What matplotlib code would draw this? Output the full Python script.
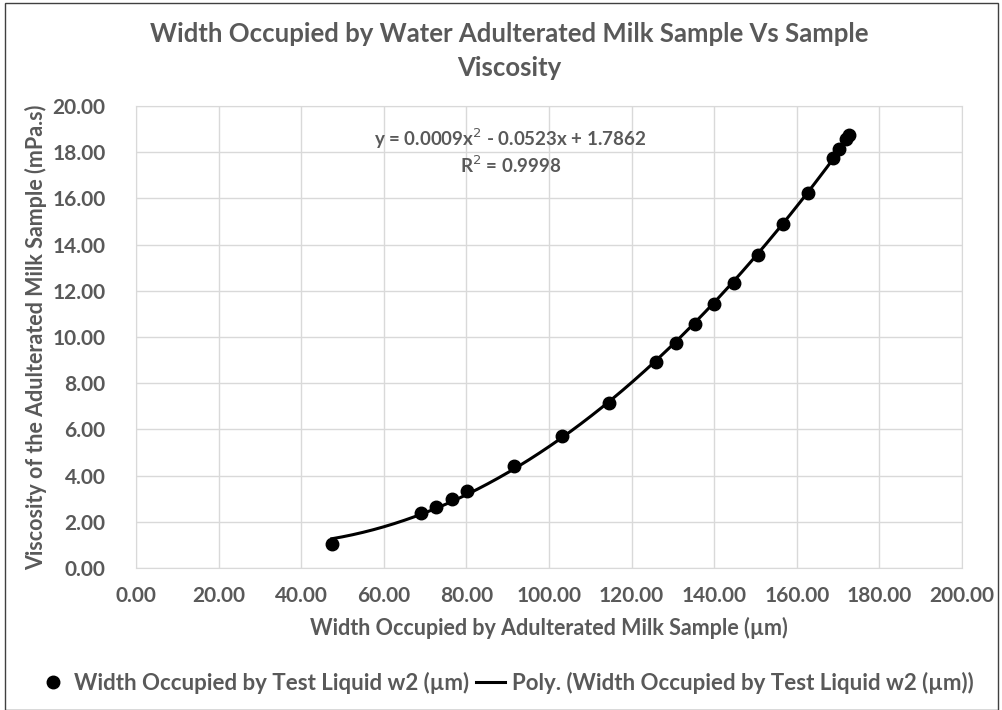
import matplotlib.pyplot as plt
import numpy as np
from matplotlib.patches import Rectangle

# data
width_um = [47.4, 68.9, 72.6, 76.5, 80.2, 91.6, 103.1, 114.6, 125.9, 130.7,
            135.4, 139.9, 144.7, 150.7, 156.7, 162.8, 168.8, 170.3, 171.9, 172.7]
viscosity = [1.04, 2.37, 2.65, 2.97, 3.32, 4.40, 5.71, 7.16, 8.93, 9.73,
             10.55, 11.42, 12.32, 13.56, 14.88, 16.25, 17.74, 18.13, 18.56, 18.74]
x_ticks = [0, 20, 40, 60, 80, 100, 120, 140, 160, 180, 200]
y_ticks = [0, 2, 4, 6, 8, 10, 12, 14, 16, 18, 20]

grey = '#595959'
plt.rcParams['font.family'] = ['Lato', 'DejaVu Sans']

fig = plt.figure(figsize=(10.03, 7.10), dpi=100)
W, H = 1003, 710
ax = fig.add_axes([136 / W, 1 - 568 / H, (962 - 136) / W, (568 - 106) / H])

# trendline like excel: 2nd order polyfit over data range
coef = np.polyfit(width_um, viscosity, 2)
xs = np.linspace(min(width_um), max(width_um), 300)
ax.plot(xs, np.polyval(coef, xs), color='black', lw=2.2, zorder=2,
        label='Poly. (Width Occupied by Test Liquid w2 (µm))')
ax.plot(width_um, viscosity, 'o', color='black', ms=9, zorder=3,
        label='Width Occupied by Test Liquid w2 (µm)')

ax.set_xlim(0, 200)
ax.set_ylim(0, 20)
ax.set_xticks(x_ticks)
ax.set_yticks(y_ticks)
ax.set_xticklabels([f'{v:.2f}' for v in x_ticks])
ax.set_yticklabels([f'{v:.2f}' for v in y_ticks])
ax.grid(True, color='#d9d9d9', lw=1)
ax.set_axisbelow(True)
for s in ax.spines.values():
    s.set_color('#d9d9d9')
ax.tick_params(length=0, labelsize=15, labelcolor=grey)
ax.tick_params(axis='x', pad=13)
ax.tick_params(axis='y', pad=22)
for t in ax.get_xticklabels() + ax.get_yticklabels():
    t.set_fontweight('bold')

ax.set_xlabel('Width Occupied by Adulterated Milk Sample (µm)', fontsize=15.5,
              fontweight='bold', color=grey, labelpad=8)
ax.set_ylabel('Viscosity of the Adulterated Milk Sample (mPa.s)', fontsize=15.5,
              fontweight='bold', color=grey, labelpad=4)

fig.text(509 / W, 1 - 51 / H, 'Width Occupied by Water Adulterated Milk Sample Vs Sample\nViscosity',
         ha='center', va='center', fontsize=18.5, fontweight='bold', color=grey,
         linespacing=1.45)

ax.text(0.453, 0.955, 'y = 0.0009x$^2$ - 0.0523x + 1.7862\nR$^2$ = 0.9998', transform=ax.transAxes,
        ha='center', va='top', fontsize=13.5, fontweight='bold', color=grey, linespacing=1.2)

handles, labels = ax.get_legend_handles_labels()
leg = fig.legend(handles[::-1], labels[::-1], loc='center', bbox_to_anchor=(506 / W, 1 - 683 / H),
                 ncol=2, frameon=False, fontsize=16, handlelength=1.3, columnspacing=0.3,
                 handletextpad=0.3)
for t in leg.get_texts():
    t.set_color(grey)
    t.set_fontweight('bold')

fig.patches.append(Rectangle((5 / W, 0), 993 / W, 1 - 3 / H, transform=fig.transFigure,
                             fill=False, edgecolor='#404040', lw=1))

fig.savefig('out.png', dpi=100)
